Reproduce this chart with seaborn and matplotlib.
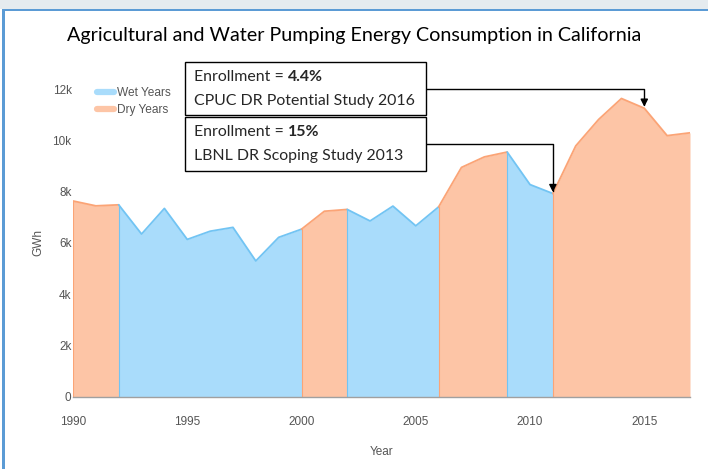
import matplotlib
matplotlib.use("Agg")
import matplotlib.pyplot as plt
import seaborn as sns
import pandas as pd
from matplotlib.patches import Rectangle
from matplotlib.lines import Line2D
from matplotlib.text import Annotation

# ---------------- data ----------------
years = list(range(1990, 2018))
gwh = [7630, 7440, 7480, 6340, 7340, 6130, 6450, 6600, 5290, 6210,
       6530, 7230, 7300, 6850, 7430, 6660, 7400, 8940, 9350, 9540,
       8270, 7920, 9780, 10810, 11630, 11250, 10180, 10290]
# type of each year-to-next-year interval (starting year)
interval_type = (["Dry"] * 2 + ["Wet"] * 8 + ["Dry"] * 2 + ["Wet"] * 4 +
                 ["Dry"] * 3 + ["Wet"] * 2 + ["Dry"] * 6)
legend_labels = ["Wet Years", "Dry Years"]
ytick_vals = [0, 2000, 4000, 6000, 8000, 10000, 12000]
ytick_labels = ["0", "2k", "4k", "6k", "8k", "10k", "12k"]
xtick_vals = [1990, 1995, 2000, 2005, 2010, 2015]
ann_pct = ["4.4%", "15%"]
ann_source = ["CPUC DR Potential Study 2016", "LBNL DR Scoping Study 2013"]
ann_year = [2015, 2011]
title = "Agricultural and Water Pumping Energy Consumption in California"

# ---------------- style ----------------
W, H = 708, 469
sns.set_theme(style="white")
plt.rcParams["font.family"] = ["Liberation Sans", "DejaVu Sans"]

fill_col = {"Wet": "#a9dcfb", "Dry": "#fdc5a6"}
line_col = {"Wet": "#72c4f3", "Dry": "#fba476"}
grey = "#555555"
box_font = ["Lato", "DejaVu Sans"]

fig = plt.figure(figsize=(W / 100, H / 100), dpi=100)

def fx(x):
    return x / W

def fy(y):
    return 1 - y / H

# slide frame
fig.patches.append(Rectangle((0, fy(9)), 1, 9 / H, transform=fig.transFigure,
                             facecolor="#e5ebef", edgecolor="none", zorder=0))
fig.patches.append(Rectangle((fx(2), fy(11)), 1, 2 / H, transform=fig.transFigure,
                             facecolor="#5b9bd5", edgecolor="none", zorder=1))
fig.patches.append(Rectangle((fx(2), 0), 3 / W, fy(9), transform=fig.transFigure,
                             facecolor="#5b9bd5", edgecolor="none", zorder=1))

ax = fig.add_axes([fx(73), fy(396.5), (690 - 73) / W, (396.5 - 89) / H])
ax.set_facecolor("none")

df = pd.DataFrame({"Year": years, "GWh": gwh})

# group contiguous intervals into segments
segments = []
start = 0
for i in range(1, len(interval_type) + 1):
    if i == len(interval_type) or interval_type[i] != interval_type[start]:
        segments.append((start, i, interval_type[start]))
        start = i

for s, e, kind in segments:
    seg = df.iloc[s:e + 1]
    ax.fill_between(seg["Year"], 0, seg["GWh"], color=fill_col[kind],
                    linewidth=0, zorder=1)
    sns.lineplot(data=seg, x="Year", y="GWh", ax=ax, color=line_col[kind],
                 linewidth=1.3, zorder=2, legend=False)
    ax.plot([seg["Year"].iloc[0]] * 2, [0, seg["GWh"].iloc[0]],
            color=line_col[kind], lw=0.8, zorder=2)

ax.set_xlim(years[0], years[-1])
ax.set_ylim(0, 12000)
ax.set_yticks(ytick_vals)
ax.set_yticklabels(ytick_labels)
ax.set_xticks(xtick_vals)
ax.tick_params(axis="both", length=0, labelsize=8.5, labelcolor=grey)
ax.tick_params(axis="x", pad=14)
ax.tick_params(axis="y", pad=1)
for sp in ["top", "right", "left"]:
    ax.spines[sp].set_visible(False)
ax.spines["bottom"].set_color("#a0a0a0")
ax.spines["bottom"].set_linewidth(1.0)
ax.spines["bottom"].set_zorder(3)
ax.set_xlabel("Year", fontsize=8.5, color=grey, labelpad=13)
ax.set_ylabel("GWh", fontsize=8.5, color=grey, labelpad=6)

# legend
handles = [Line2D([], [], color=fill_col["Wet"], lw=4.5, solid_capstyle="round"),
           Line2D([], [], color=fill_col["Dry"], lw=4.5, solid_capstyle="round")]
leg = ax.legend(handles, legend_labels, loc="upper left",
                bbox_to_anchor=(fx(97), fy(87)), bbox_transform=fig.transFigure,
                frameon=False, fontsize=8.6, handlelength=1.4, handletextpad=0.3,
                labelspacing=0.45, borderpad=0, borderaxespad=0)
for t in leg.get_texts():
    t.set_color(grey)

# title
fig.text(0.5, fy(36), title, ha="center", va="center", fontsize=14.2,
         family=box_font, color="black")

# annotation boxes
box_top = [62, 117]
box_bottom = [115.5, 171]
box_left, box_right = 185, 425.6
for k in range(len(ann_pct)):
    t0, b0 = box_top[k], box_bottom[k]
    fig.patches.append(Rectangle((fx(box_left), fy(b0)), (box_right - box_left) / W,
                                 (b0 - t0) / H, transform=fig.transFigure,
                                 facecolor="white", edgecolor="black", lw=1.0, zorder=5))
    row_h = (b0 - t0) / 2
    t1 = fig.text(fx(194), fy(t0 + row_h * 0.55), "Enrollment = ", ha="left",
                  va="center", fontsize=11.4, family=box_font, zorder=6)
    fig.add_artist(Annotation(ann_pct[k], xy=(1, 0.5), xycoords=t1, va="center",
                              ha="left", fontsize=11.4, fontweight="bold",
                              family=box_font, zorder=7))
    fig.text(fx(194), fy(t0 + row_h * 1.45), ann_source[k], ha="left",
             va="center", fontsize=11.4, family=box_font, zorder=6)
    mid = (t0 + b0) / 2
    target = gwh[years.index(ann_year[k])]
    ax.annotate("", xy=(ann_year[k], target), xycoords="data",
                xytext=(fx(box_right), fy(mid)), textcoords="figure fraction",
                arrowprops=dict(arrowstyle="-|>", color="black", lw=1.0,
                                connectionstyle="angle,angleA=0,angleB=90,rad=0",
                                shrinkA=0, shrinkB=1, mutation_scale=11),
                annotation_clip=False, zorder=6)

fig.savefig("out.png", dpi=100)
